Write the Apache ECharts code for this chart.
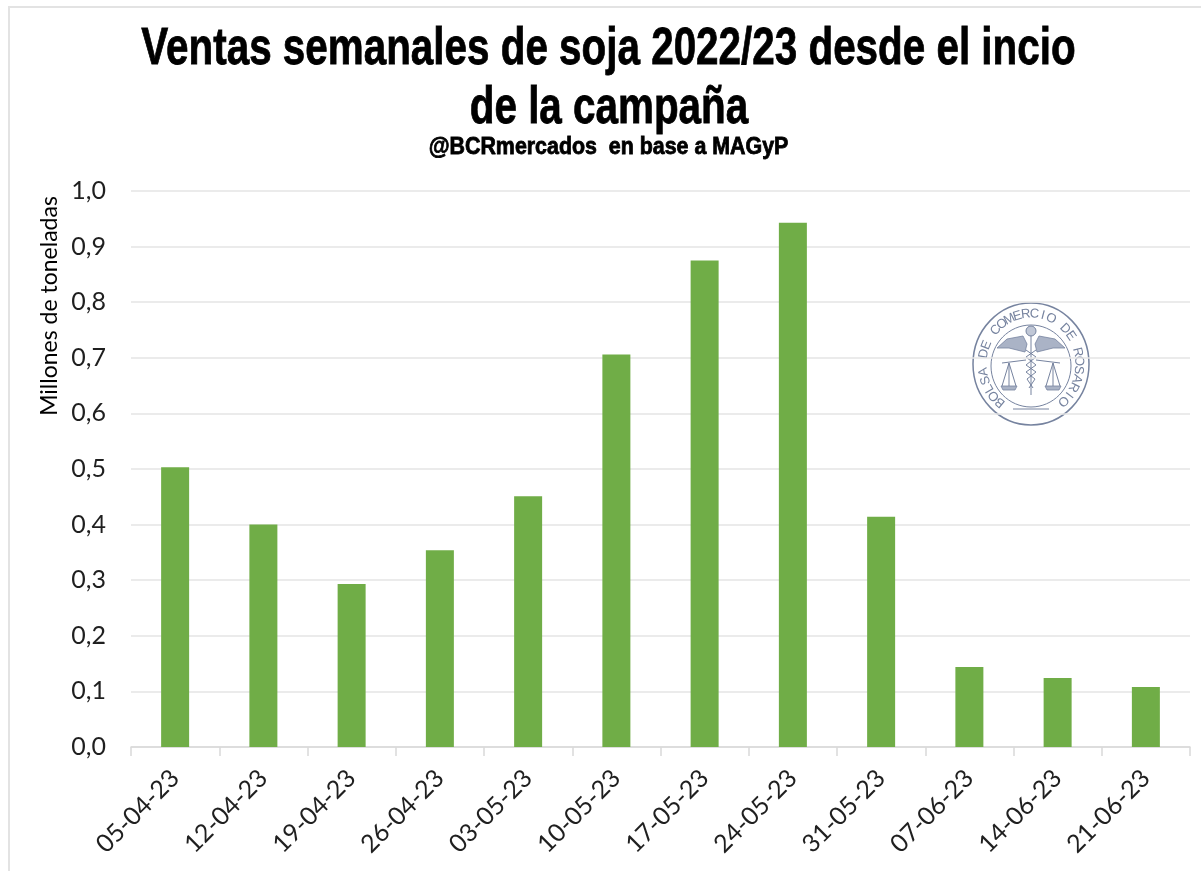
<!DOCTYPE html>
<html>
<head>
<meta charset="utf-8">
<style>
  html, body { margin: 0; padding: 0; background: #fff; }
  #chart { width: 1201px; height: 871px; }
</style>
<script src="https://cdn.jsdelivr.net/npm/echarts@6/dist/echarts.min.js"></script>
</head>
<body>
<div id="chart"></div>
<script>
const categories = ['05-04-23', '12-04-23', '19-04-23', '26-04-23', '03-05-23', '10-05-23', '17-05-23', '24-05-23', '31-05-23', '07-06-23', '14-06-23', '21-06-23']
const ventas = [0.503, 0.400, 0.293, 0.354, 0.451, 0.706, 0.875, 0.943, 0.414, 0.144, 0.124, 0.108]
const titleLines = ['Ventas semanales de soja 2022/23 desde el incio', 'de la campaña']
const subtitle = '@BCRmercados  en base a MAGyP'
const yName = 'Millones de toneladas'
const sealText = 'BOLSA DE COMERCIO DE ROSARIO'

// no hay fuente condensada instalada: se angosta la Liberation Sans con scaleX
function narrowText(text, x, y, size, scaleX) {
  return {
    type: 'text',
    x: x,
    y: y,
    scaleX: scaleX,
    silent: true,
    style: {
      text: text,
      fill: '#000',
      stroke: '#000',
      lineWidth: 0.8,
      font: 'bold ' + size + 'px "Liberation Sans"',
      align: 'center',
      verticalAlign: 'middle'
    }
  }
}

// logo de la BCR: anillos + letras alrededor
const sealColor = '#76839f'
const cx = 1031
const cy = 362
function sealLetters() {
  const letters = []
  const start = -140
  const end = 138
  sealText.split('').forEach((ch, i) => {
    const deg = start + (end - start) * i / (sealText.length - 1)
    const rad = deg * Math.PI / 180
    letters.push({
      type: 'text',
      x: cx + 48 * Math.sin(rad),
      y: cy + 2 - 50 * Math.cos(rad),
      rotation: -rad,
      silent: true,
      style: { text: ch, fill: sealColor, font: '13px "Liberation Sans"', align: 'center', verticalAlign: 'middle' }
    })
  })
  return letters
}
function sealShapes() {
  const line = { stroke: sealColor, fill: null, lineWidth: 1 }
  const paths = [
    [[-5, -12], [5, -5], [-5, 3], [5, 10], [-4, 17], [2, 26]],
    [[5, -12], [-5, -5], [5, 3], [-5, 10], [4, 17], [-2, 26]],
    [[0, -28], [0, 33]],
    [[-29, 1], [-5, -2]],
    [[29, 1], [5, -2]],
    [[-22, 1], [-22, 27]],
    [[22, 1], [22, 27]],
    [[-22, 1], [-29, 24]],
    [[-22, 1], [-15, 24]],
    [[22, 1], [29, 24]],
    [[22, 1], [15, 24]],
    [[-18, 47], [18, 47]]
  ]
  const out = paths.map(p => ({
    type: 'polyline',
    silent: true,
    shape: { points: p.map(q => [cx + q[0], cy + q[1]]) },
    style: line
  }))
  // alas y platillos rellenos
  const fills = [
    [[-34, -14], [-24, -23], [-8, -26], [-4, -18], [-6, -10], [-22, -14]],
    [[34, -14], [24, -23], [8, -26], [4, -18], [6, -10], [22, -14]],
    [[-30, 24], [-14, 24], [-16, 28], [-28, 28]],
    [[30, 24], [14, 24], [16, 28], [28, 28]]
  ]
  fills.forEach(p => {
    out.push({
      type: 'polygon',
      silent: true,
      shape: { points: p.map(q => [cx + q[0], cy + q[1]]) },
      style: { fill: '#aab3c6', stroke: sealColor, lineWidth: 0.8 }
    })
  })
  out.push({ type: 'circle', silent: true, shape: { cx: cx, cy: cy - 31, r: 5 }, style: { stroke: sealColor, fill: '#c0c7d6', lineWidth: 1 } })
  return out
}

const chart = echarts.init(document.getElementById('chart'))
chart.setOption({
  animation: false,
  backgroundColor: '#fff',
  grid: { left: 131, right: 11, top: 191, bottom: 124 },
  xAxis: {
    type: 'category',
    data: categories,
    axisLine: { lineStyle: { color: '#d9d9d9', width: 1.5 } },
    axisTick: { show: true, length: 9, alignWithLabel: false, lineStyle: { color: '#d9d9d9', width: 1.5 } },
    axisLabel: { rotate: 45, interval: 0, margin: 27, fontFamily: 'Lato', fontSize: 25, color: '#1f1f1f' }
  },
  yAxis: {
    type: 'value',
    min: 0,
    max: 1,
    interval: 0.1,
    axisLine: { show: false },
    axisTick: { show: false },
    axisLabel: {
      margin: 25,
      fontFamily: 'Lato',
      fontSize: 25,
      color: '#1f1f1f',
      formatter: v => v.toFixed(1).replace('.', ',')
    },
    splitLine: { lineStyle: { color: '#e4e4e4', width: 1.5 } }
  },
  series: [
    {
      name: 'Ventas',
      type: 'bar',
      data: ventas,
      barWidth: 28,
      itemStyle: { color: '#70ad47' }
    }
  ],
  graphic: [
    { type: 'polyline', silent: true, shape: { points: [[9, 871], [9, 7], [1201, 7]] }, style: { stroke: '#e3e3e3', fill: null, lineWidth: 2 } },
    narrowText(titleLines[0], 608.5, 50, 52, 0.777),
    narrowText(titleLines[1], 609, 109, 52, 0.777),
    narrowText(subtitle, 608.5, 148, 23, 0.93),
    {
      type: 'text',
      x: 50,
      y: 306,
      rotation: Math.PI / 2,
      silent: true,
      style: { text: yName, fill: '#000', font: '23px Lato', align: 'center', verticalAlign: 'middle' }
    },
    { type: 'ellipse', silent: true, shape: { cx: cx, cy: cy + 2, rx: 58, ry: 61 }, style: { stroke: sealColor, fill: '#fff', lineWidth: 1.5 } },
    { type: 'ellipse', silent: true, shape: { cx: cx, cy: cy + 4, rx: 40, ry: 41 }, style: { stroke: sealColor, fill: null, lineWidth: 1 } },
    ...sealLetters(),
    ...sealShapes()
  ]
})
</script>
</body>
</html>
